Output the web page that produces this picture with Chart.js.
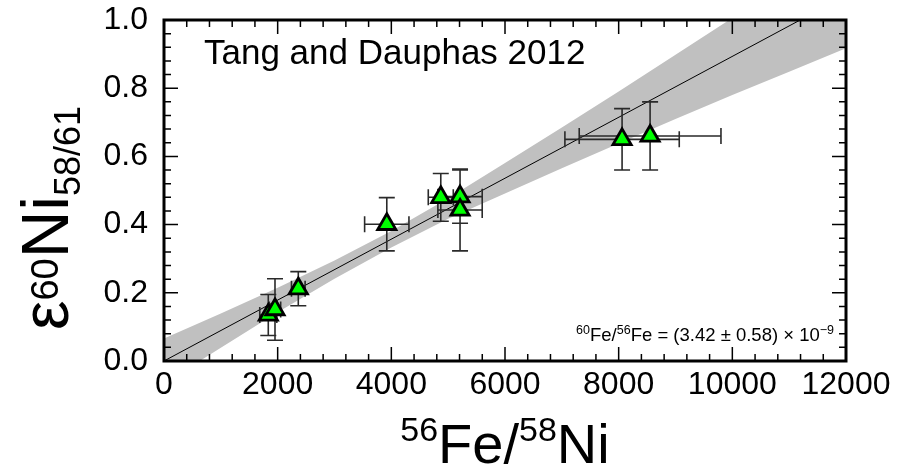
<!DOCTYPE html>
<html>
<head>
<meta charset="utf-8">
<script src="https://cdn.jsdelivr.net/npm/chart.js@4.4.1/dist/chart.umd.min.js"></script>
<style>
  html, body { margin: 0; padding: 0; background: #fff; }
</style>
</head>
<body>
<canvas id="isochron" width="898" height="468"></canvas>
<script>
// samples: 56Fe/58Ni and eps60Ni with 1-sigma errors
const feNi      = [1835, 1953, 2363, 3920, 4870, 5209, 5209, 8060, 8553];
const feNiErr   = [150, 100, 120, 390, 220, 390, 390, 1006, 1247];
const epsNi     = [0.135, 0.151, 0.212, 0.401, 0.480, 0.482, 0.443, 0.650, 0.660];
const epsNiErr  = [0.060, 0.090, 0.050, 0.078, 0.070, 0.078, 0.120, 0.090, 0.100];

// isochron fit line
const fitX = [0, 12000];
const fitY = [0, 1.072];

// confidence envelope
const bandX  = [0, 1000, 2000, 3000, 4000, 5000, 6000, 7000, 8000, 9000, 10000, 11000, 12000];
const bandHi = [0.066, 0.139, 0.215, 0.295, 0.381, 0.477, 0.581, 0.685, 0.790, 0.898, 1.006, 1.116, 1.227];
const bandLo = [-0.066, 0.039, 0.143, 0.241, 0.333, 0.417, 0.491, 0.565, 0.638, 0.710, 0.780, 0.848, 0.917];

const xTicks = [0, 2000, 4000, 6000, 8000, 10000, 12000];
const yTicks = [0.0, 0.2, 0.4, 0.6, 0.8, 1.0];

const FONT = "'Liberation Sans', Arial, Helvetica, sans-serif";

const toXY = (xs, ys) => xs.map((x, i) => ({x: x, y: ys[i]}));

// draw a run of text pieces [text, size, baseline shift]
function richText(ctx, parts, x, y, align) {
  let total = 0;
  parts.forEach(p => { ctx.font = p[1] + 'px ' + FONT; total += ctx.measureText(p[0]).width; });
  let cx = align === 'center' ? x - total / 2 : align === 'right' ? x - total : x;
  ctx.textBaseline = 'alphabetic';
  ctx.textAlign = 'left';
  parts.forEach(p => {
    ctx.font = p[1] + 'px ' + FONT;
    ctx.fillText(p[0], cx, y + p[2]);
    cx += ctx.measureText(p[0]).width;
  });
}

const errorBars = {
  id: 'errorBars',
  beforeDatasetDraw(chart, args) {
    if (args.index !== 0) return;
    const {ctx, scales: {x, y}} = chart;
    const cap = 8;
    ctx.save();
    ctx.strokeStyle = '#2a2a2a';
    ctx.lineWidth = 1.6;
    ctx.beginPath();
    feNi.forEach((v, i) => {
      const px = x.getPixelForValue(v), py = y.getPixelForValue(epsNi[i]);
      const x0 = x.getPixelForValue(v - feNiErr[i]), x1 = x.getPixelForValue(v + feNiErr[i]);
      const y0 = y.getPixelForValue(epsNi[i] - epsNiErr[i]), y1 = y.getPixelForValue(epsNi[i] + epsNiErr[i]);
      ctx.moveTo(x0, py); ctx.lineTo(x1, py);
      ctx.moveTo(x0, py - cap); ctx.lineTo(x0, py + cap);
      ctx.moveTo(x1, py - cap); ctx.lineTo(x1, py + cap);
      ctx.moveTo(px, y0); ctx.lineTo(px, y1);
      ctx.moveTo(px - cap, y0); ctx.lineTo(px + cap, y0);
      ctx.moveTo(px - cap, y1); ctx.lineTo(px + cap, y1);
    });
    ctx.stroke();
    ctx.restore();
  }
};

// box frame with inward major/minor ticks on all four sides
const frame = {
  id: 'frame',
  afterDatasetsDraw(chart) {
    const {ctx, chartArea: a, scales: {x, y}} = chart;
    ctx.save();
    ctx.strokeStyle = '#000';
    ctx.lineWidth = 1.5;
    ctx.beginPath();
    for (let i = 0; i <= 30; i++) {
      const p = x.getPixelForValue(i * 400);
      const len = i % 5 === 0 ? 14 : 7;
      ctx.moveTo(p, a.bottom); ctx.lineTo(p, a.bottom - len);
      ctx.moveTo(p, a.top); ctx.lineTo(p, a.top + len);
    }
    for (let i = 0; i <= 25; i++) {
      const p = y.getPixelForValue(i * 0.04);
      const len = i % 5 === 0 ? 14 : 7;
      ctx.moveTo(a.left, p); ctx.lineTo(a.left + len, p);
      ctx.moveTo(a.right, p); ctx.lineTo(a.right - len, p);
    }
    ctx.stroke();
    ctx.lineWidth = 3;
    ctx.strokeRect(a.left, a.top, a.right - a.left, a.bottom - a.top);
    ctx.restore();
  },
  afterDraw(chart) {
    const {ctx, chartArea: a} = chart;
    ctx.save();
    ctx.fillStyle = '#000';
    richText(ctx, [['Tang and Dauphas 2012', 35, 0]], a.left + 40, 64, 'left');
    richText(ctx, [['60', 12.5, -7], ['Fe/', 18.5, 0], ['56', 12.5, -7], ['Fe = (3.42 \u00b1 0.58) \u00d7 10', 18.5, 0], ['\u22129', 12.5, -7]],
      a.right - 12, 341, 'right');
    // x axis title
    richText(ctx, [['56', 34, -22], ['Fe/', 56, 0], ['58', 34, -22], ['Ni', 56, 0]], (a.left + a.right) / 2, 463, 'center');
    // y axis title, rotated
    ctx.translate(68, 330);
    ctx.rotate(-Math.PI / 2);
    richText(ctx, [['\u03b5', 66, 0], ['60', 38, -10], ['Ni', 66, 0], ['58/61', 36, 12]], 0, 0, 'left');
    ctx.restore();
  }
};

new Chart(document.getElementById('isochron'), {
  type: 'scatter',
  data: {
    datasets: [
      {
        label: 'samples',
        data: toXY(feNi, epsNi),
        pointStyle: 'triangle',
        pointRadius: 10.5,
        pointHoverRadius: 10.5,
        backgroundColor: '#00ff00',
        borderColor: '#000',
        borderWidth: 2.8,
        order: 0
      },
      {
        type: 'line',
        label: 'fit',
        data: toXY(fitX, fitY),
        borderColor: '#000',
        borderWidth: 1,
        pointRadius: 0,
        fill: false,
        order: 1
      },
      {
        type: 'line',
        label: 'upper',
        data: toXY(bandX, bandHi),
        borderWidth: 0,
        borderColor: 'rgba(0,0,0,0)',
        backgroundColor: '#c0c0c0',
        pointRadius: 0,
        fill: '+1',
        order: 2
      },
      {
        type: 'line',
        label: 'lower',
        data: toXY(bandX, bandLo),
        borderWidth: 0,
        borderColor: 'rgba(0,0,0,0)',
        pointRadius: 0,
        fill: false,
        order: 3
      }
    ]
  },
  options: {
    responsive: false,
    animation: false,
    devicePixelRatio: 1,
    layout: { padding: { left: 0, top: 20, right: 52, bottom: 0 } },
    plugins: {
      legend: { display: false },
      tooltip: { enabled: false },
      title: { display: false }
    },
    scales: {
      x: {
        type: 'linear',
        min: 0,
        max: 12000,
        afterBuildTicks: s => { s.ticks = xTicks.map(v => ({value: v})); },
        afterFit: s => { s.height = 107; },
        grid: { display: false, drawTicks: false },
        border: { display: false },
        ticks: {
          padding: 5,
          color: '#000',
          font: { family: FONT, size: 32 },
          callback: v => String(v),
          maxRotation: 0
        }
      },
      y: {
        type: 'linear',
        min: 0,
        max: 1,
        afterBuildTicks: s => { s.ticks = yTicks.map(v => ({value: v})); },
        afterFit: s => { s.width = 164; },
        grid: { display: false, drawTicks: false },
        border: { display: false },
        ticks: {
          padding: 16,
          color: '#000',
          font: { family: FONT, size: 32, lineHeight: 0.2 },
          callback: v => v.toFixed(1)
        }
      }
    }
  },
  plugins: [errorBars, frame]
});
</script>
</body>
</html>
